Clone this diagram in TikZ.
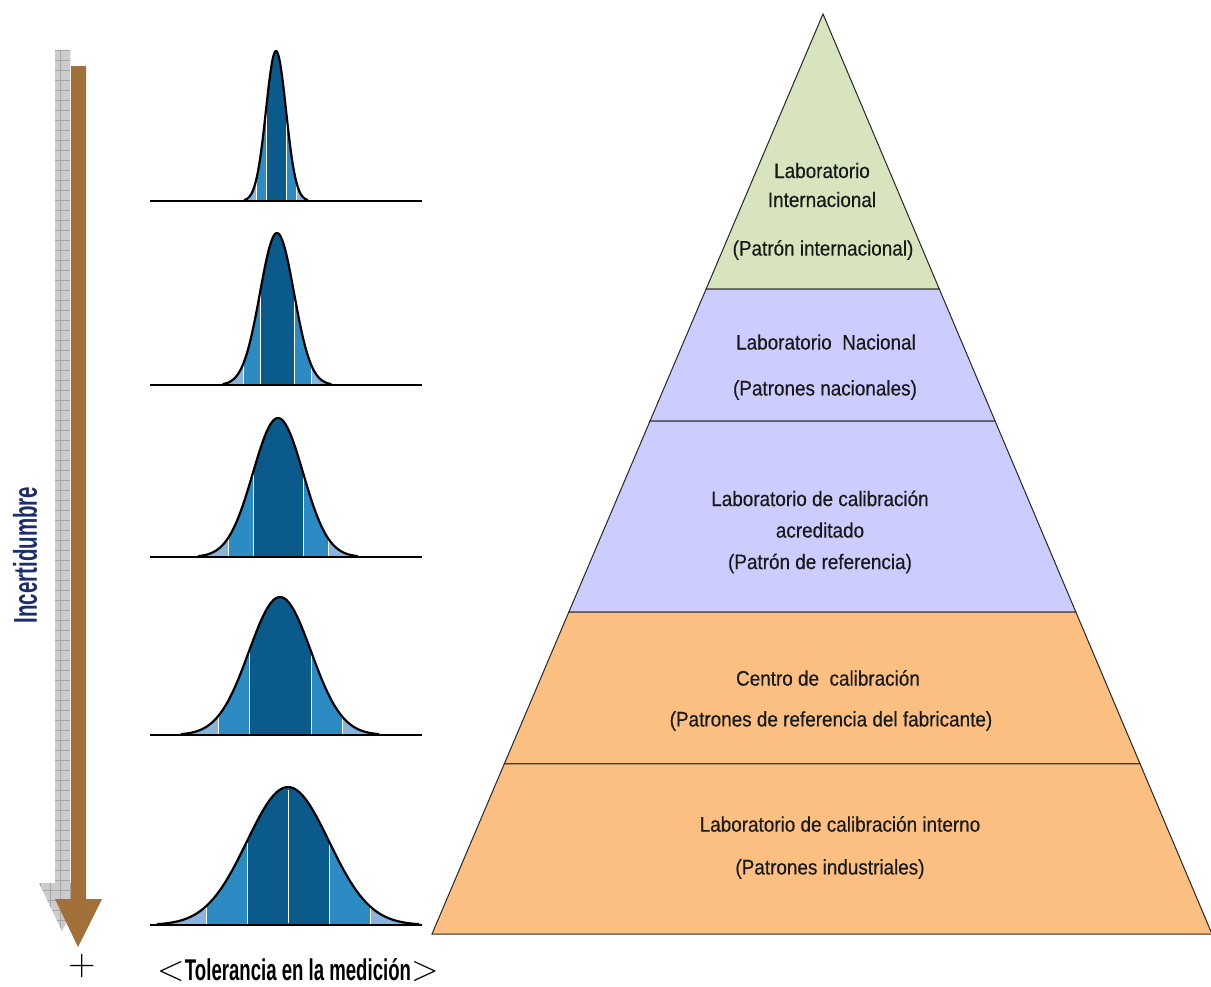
\documentclass[tikz,border=0pt]{standalone}
\usepackage{fontspec}
\setmainfont{Liberation Sans}
\newfontfamily\condfont[FakeStretch=0.62]{Liberation Sans}
\newfontfamily\pyrfont[FakeStretch=0.9,FakeBold=0.4]{Liberation Sans}
\newfontfamily\lmfont{Latin Modern Roman}
\usetikzlibrary{positioning,calc}

\definecolor{nivelverde}{HTML}{D7E4BD}
\definecolor{nivellila}{HTML}{CCCCFF}
\definecolor{nivelnaranja}{HTML}{FBBF81}
\definecolor{flechacafe}{HTML}{A27139}
\definecolor{azuloscuro}{HTML}{0A5A8C}
\definecolor{azulmedio}{HTML}{2C8BC2}
\definecolor{azulclaro}{HTML}{86B4DA}
\definecolor{tintaazul}{HTML}{1C2D6B}

% campana: centro, base, altura, sigma
\newcommand{\bellcurve}[4]{%
  \fill[azulclaro] plot[domain=#1-3.1*#4:#1+3.1*#4,samples=70] (\x,{#2-#3*exp(-0.5*((\x-#1)/#4)^2)}) -- cycle;
  \fill[azulmedio] plot[domain=#1-2*#4:#1+2*#4,samples=60] (\x,{#2-#3*exp(-0.5*((\x-#1)/#4)^2)})
    -- (#1+2*#4,#2) -- (#1-2*#4,#2) -- cycle;
  \fill[azuloscuro] plot[domain=#1-#4:#1+#4,samples=40] (\x,{#2-#3*exp(-0.5*((\x-#1)/#4)^2)})
    -- (#1+#4,#2) -- (#1-#4,#2) -- cycle;
  \draw[sepline] (#1-#4,#2) -- (#1-#4,{#2-#3*exp(-0.5)});
  \draw[sepline] (#1+#4,#2) -- (#1+#4,{#2-#3*exp(-0.5)});
  \draw[sepline] (#1-2*#4,#2) -- (#1-2*#4,{#2-#3*exp(-2)});
  \draw[sepline] (#1+2*#4,#2) -- (#1+2*#4,{#2-#3*exp(-2)});
  \draw[bellline] plot[domain=#1-3.2*#4:#1+3.2*#4,samples=80] (\x,{#2-#3*exp(-0.5*((\x-#1)/#4)^2)});
  \draw[bellbase] (150,#2) -- (422,#2);
}

\begin{document}
\begin{tikzpicture}
	[x=1pt,y=-1pt,
	lvltext/.style={font=\pyrfont\fontsize{21}{29}\selectfont, align=center, text=black!90, inner sep=0pt},
	layer/.style={draw=black!85, line width=1pt},
	sepline/.style={white, line width=1pt},
	bellline/.style={black, line width=2.2pt, line join=round},
	bellbase/.style={black, line width=2.6pt}]
	\useasboundingbox (0,0) rectangle (1211,986);

	% piramide
	\coordinate (apex) at (823,14);
	\coordinate (bl) at (432,934);
	\coordinate (br) at (1212,934);
	\coordinate (l1) at ($(apex)!0.299!(bl)$);
	\coordinate (r1) at ($(apex)!0.299!(br)$);
	\coordinate (l2) at ($(apex)!0.4424!(bl)$);
	\coordinate (r2) at ($(apex)!0.4424!(br)$);
	\coordinate (l3) at ($(apex)!0.650!(bl)$);
	\coordinate (r3) at ($(apex)!0.650!(br)$);
	\coordinate (l4) at ($(apex)!0.815!(bl)$);
	\coordinate (r4) at ($(apex)!0.815!(br)$);

	\filldraw[layer, fill=nivelverde] (apex) -- (r1) -- (l1) -- cycle;
	\filldraw[layer, fill=nivellila] (l1) -- (r1) -- (r2) -- (l2) -- cycle;
	\filldraw[layer, fill=nivellila] (l2) -- (r2) -- (r3) -- (l3) -- cycle;
	\filldraw[layer, fill=nivelnaranja] (l3) -- (r3) -- (r4) -- (l4) -- cycle;
	\filldraw[layer, fill=nivelnaranja] (l4) -- (r4) -- (br) -- (bl) -- cycle;

	\node[lvltext] (intl) at (822,185) {Laboratorio\\Internacional};
	\node[lvltext] (intlpat) at (823,250) {(Patrón internacional)};
	\node[lvltext] (nac) at (826,342) {Laboratorio\ \ Nacional};
	\node[lvltext] (nacpat) at (825,390) {(Patrones nacionales)};
	\node[lvltext] (acred) at (820,532) {Laboratorio de calibración\\[2.5pt]acreditado\\[2.5pt](Patrón de referencia)};
	\node[lvltext] (centro) at (828,678) {Centro de\ \ calibración};
	\node[lvltext] (centropat) at (831,721) {(Patrones de referencia del fabricante)};
	\node[lvltext] (interno) at (840,824) {Laboratorio de calibración interno};
	\node[lvltext] (internopat) at (830,869) {(Patrones industriales)};

	% campanas
	\bellcurve{276}{201}{150}{10}
	\bellcurve{277}{385}{152}{17}
	\bellcurve{278}{557}{139}{25}
	\bellcurve{280}{735}{138}{31}
	\bellcurve{288}{925}{138}{41}
	\draw[sepline] (288,923) -- (288,790);

	% flecha
	\begin{scope}
		\clip (55,50) -- (70,50) -- (70,883) -- (86,883) -- (62,931) -- (39,883) -- (55,883) -- cycle;
		\fill[gray!40] (30,40) rectangle (100,940);
		\draw[gray!70, step=10pt] (30,40) grid (100,940);
	\end{scope}
	\fill[flechacafe] (71,66) -- (86,66) -- (86,899) -- (102,899) -- (78,947) -- (55,899) -- (71,899) -- cycle;

	\node[font=\condfont\bfseries\fontsize{33}{33}\selectfont, text=tintaazul, rotate=90, inner sep=0pt] (incert) at (25,555) {Incertidumbre};
	\node[font=\lmfont\fontsize{38}{38}\selectfont, inner sep=0pt] (mas) at (82,966) {+};
	\node[font=\condfont\bfseries\fontsize{30}{30}\selectfont, inner sep=0pt] (tol) at (298,970) {{\lmfont\mdseries\fontsize{36}{36}\selectfont <}Tolerancia en la medición{\lmfont\mdseries\fontsize{36}{36}\selectfont >}};
\end{tikzpicture}
\end{document}
